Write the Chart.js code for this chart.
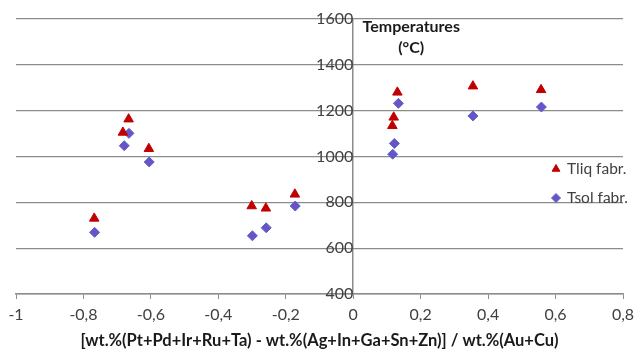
<!DOCTYPE html>
<html>
<head>
<meta charset="utf-8">
<script src="https://cdn.jsdelivr.net/npm/chart.js@4.4.1/dist/chart.umd.min.js"></script>
<style>
  html, body { margin: 0; padding: 0; background: #fff; }
  #wrap { width: 638px; height: 351px; position: relative; }
</style>
</head>
<body>
<div id="wrap"><canvas id="c" width="638" height="351"></canvas></div>
<script>
const tliqX = [-0.768, -0.683, -0.666, -0.606, -0.301, -0.259, -0.173, 0.116, 0.120, 0.131, 0.355, 0.557];
const tliqY = [730, 1105, 1163, 1034, 784, 774, 835, 1134, 1171, 1280, 1307, 1291];
const tsolX = [-0.767, -0.679, -0.665, -0.605, -0.299, -0.258, -0.172, 0.117, 0.122, 0.134, 0.355, 0.558];
const tsolY = [669, 1047, 1101, 976, 654, 689, 784, 1010, 1057, 1232, 1177, 1216];
const seriesNames = ['Tliq fabr.', 'Tsol fabr.'];
const xTitle = '[wt.%(Pt+Pd+Ir+Ru+Ta) - wt.%(Ag+In+Ga+Sn+Zn)] / wt.%(Au+Cu)';
const yTitleLines = ['Temperatures', '(°C)'];
const xMin = -1, xMax = 0.8, xStep = 0.2;
const yMin = 400, yMax = 1600, yStep = 200;

const FONT = 'Lato, "Open Sans", sans-serif';
const TEXT = '#404040';
const GRID = '#8c8c8c';

const liqColor = '#C00000';
const solFill = '#6E50C8';
const solBorder = '#4A6CC4';

function pts(xs, ys) { return xs.map((x, i) => ({ x: x, y: ys[i] })); }

const overlay = {
  id: 'overlay',
  afterDraw(chart) {
    const ctx = chart.ctx;
    const xs = chart.scales.x, ys = chart.scales.y;
    ctx.save();
    ctx.fillStyle = '#1a1a1a';
    ctx.font = 'bold 16px ' + FONT;
    ctx.textAlign = 'center';
    ctx.textBaseline = 'middle';
    const cx = xs.getPixelForValue(0) + 58;
    ctx.fillText(yTitleLines[0], cx, ys.top + 8);
    ctx.fillText(yTitleLines[1], cx, ys.top + 29);

    const lx = 556, ly = [169, 198];
    ctx.lineWidth = 1;
    ctx.fillStyle = liqColor; ctx.strokeStyle = liqColor;
    Chart.helpers.drawPoint(ctx, { pointStyle: 'triangle', radius: 4.5, borderWidth: 1 }, lx, ly[0]);
    ctx.fillStyle = solFill; ctx.strokeStyle = solBorder;
    Chart.helpers.drawPoint(ctx, { pointStyle: 'rectRot', radius: 4.5, borderWidth: 1 }, lx, ly[1]);
    ctx.font = '15.5px ' + FONT;
    ctx.textAlign = 'left';
    ctx.textBaseline = 'middle';
    ctx.fillStyle = TEXT;
    ctx.fillText(seriesNames[0], lx + 11, ly[0]);
    ctx.fillText(seriesNames[1], lx + 11, ly[1]);
    ctx.restore();
  }
};

function fmt(v) {
  const r = Math.round(v * 10) / 10;
  return String(r).replace('.', ',');
}

new Chart(document.getElementById('c'), {
  type: 'scatter',
  data: {
    datasets: [
      {
        label: seriesNames[0],
        data: pts(tliqX, tliqY),
        pointStyle: 'triangle',
        pointRadius: 5.5,
        backgroundColor: liqColor,
        borderColor: liqColor,
        borderWidth: 1
      },
      {
        label: seriesNames[1],
        data: pts(tsolX, tsolY),
        pointStyle: 'rectRot',
        pointRadius: 5,
        backgroundColor: solFill,
        borderColor: solBorder,
        borderWidth: 1
      }
    ]
  },
  options: {
    responsive: false,
    animation: false,
    devicePixelRatio: 1,
    layout: { padding: { left: 16, right: 15, top: 19, bottom: 0 } },
    plugins: {
      legend: { display: false },
      tooltip: { enabled: false }
    },
    scales: {
      x: {
        type: 'linear',
        min: xMin, max: xMax,
        afterFit(scale) { scale.paddingLeft = 0; scale.paddingRight = 0; },
        ticks: {
          stepSize: xStep,
          callback: (v) => fmt(v),
          color: TEXT,
          font: { family: FONT, size: 16 },
          padding: 6,
          maxRotation: 0
        },
        grid: { drawOnChartArea: false, drawTicks: true, tickLength: 5, color: GRID },
        border: { color: GRID, width: 1.5 },
        title: {
          display: true,
          text: xTitle,
          color: '#1a1a1a',
          font: { family: FONT, size: 16.5, weight: 'bold' },
          padding: { top: 1, bottom: 0 }
        }
      },
      y: {
        type: 'linear',
        position: { x: 0 },
        min: yMin, max: yMax,
        afterFit(scale) { scale.paddingTop = 0; scale.paddingBottom = 0; },
        ticks: {
          stepSize: yStep,
          callback: (v) => String(Math.round(v)),
          color: TEXT,
          font: { family: FONT, size: 16 },
          padding: 13
        },
        grid: { color: GRID, lineWidth: 1.2, drawTicks: false },
        border: { color: GRID, width: 1.5 }
      }
    }
  },
  plugins: [overlay]
});
</script>
</body>
</html>
